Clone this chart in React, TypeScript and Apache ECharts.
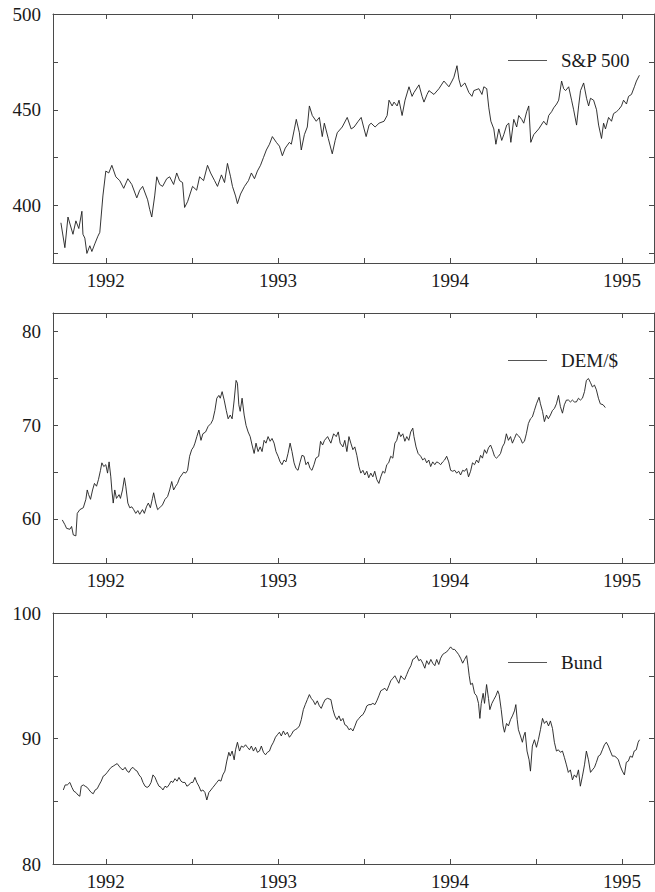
import React, { useEffect, useRef } from "react";
import * as echarts from "echarts";

// decimal year, value
const spData: [number, number][] = [
  [1991.739, 391], [1991.762, 378], [1991.780, 394], [1991.809, 385], [1991.826, 392], [1991.843, 388],
  [1991.861, 397], [1991.867, 385], [1991.878, 383], [1991.890, 375], [1991.907, 379], [1991.919, 376],
  [1991.936, 380], [1991.954, 384], [1991.965, 386], [1991.983, 405], [1992.000, 418], [1992.017, 417],
  [1992.035, 421], [1992.058, 415], [1992.081, 413], [1992.104, 409], [1992.128, 414], [1992.151, 411],
  [1992.180, 404], [1992.197, 408], [1992.214, 410], [1992.243, 403], [1992.255, 398], [1992.267, 394],
  [1992.284, 405], [1992.296, 415], [1992.313, 411], [1992.330, 410], [1992.354, 414], [1992.371, 415],
  [1992.394, 411], [1992.412, 417], [1992.429, 413], [1992.446, 412], [1992.458, 399], [1992.475, 402],
  [1992.504, 410], [1992.528, 408], [1992.545, 415], [1992.568, 413], [1992.591, 421], [1992.609, 417],
  [1992.632, 413], [1992.649, 410], [1992.672, 416], [1992.690, 412], [1992.707, 422], [1992.725, 415],
  [1992.736, 410], [1992.754, 405], [1992.765, 401], [1992.783, 406], [1992.806, 410], [1992.829, 413],
  [1992.846, 417], [1992.864, 414], [1992.881, 418], [1992.899, 421], [1992.916, 425], [1992.933, 429],
  [1992.951, 432], [1992.968, 436], [1992.991, 433], [1993.009, 431], [1993.026, 426], [1993.043, 430],
  [1993.067, 433], [1993.078, 432], [1993.096, 440], [1993.107, 445], [1993.125, 438], [1993.136, 429],
  [1993.154, 437], [1993.171, 441], [1993.183, 452], [1993.200, 447], [1993.223, 444], [1993.241, 446],
  [1993.258, 436], [1993.270, 443], [1993.293, 435], [1993.316, 427], [1993.333, 434], [1993.345, 438],
  [1993.374, 441], [1993.403, 446], [1993.426, 440], [1993.443, 441], [1993.467, 444], [1993.484, 446],
  [1993.501, 440], [1993.513, 436], [1993.530, 442], [1993.542, 443], [1993.565, 441], [1993.588, 443],
  [1993.617, 444], [1993.635, 447], [1993.646, 455], [1993.664, 452], [1993.675, 454], [1993.693, 452],
  [1993.704, 455], [1993.722, 447], [1993.739, 455], [1993.762, 462], [1993.780, 457], [1993.791, 459],
  [1993.820, 463], [1993.838, 457], [1993.849, 454], [1993.867, 458], [1993.878, 460], [1993.907, 458],
  [1993.936, 461], [1993.965, 465], [1993.994, 462], [1994.012, 465], [1994.023, 467], [1994.041, 473],
  [1994.052, 466], [1994.064, 462], [1994.087, 464], [1994.110, 459], [1994.128, 457], [1994.139, 460],
  [1994.168, 461], [1994.186, 458], [1994.197, 462], [1994.214, 461], [1994.226, 451], [1994.238, 444],
  [1994.255, 440], [1994.267, 432], [1994.284, 440], [1994.301, 434], [1994.313, 437], [1994.330, 442],
  [1994.342, 443], [1994.354, 433], [1994.371, 445], [1994.388, 441], [1994.400, 447], [1994.417, 445],
  [1994.429, 443], [1994.446, 449], [1994.458, 452], [1994.470, 433], [1994.487, 437], [1994.516, 440],
  [1994.545, 444], [1994.562, 442], [1994.574, 447], [1994.591, 449], [1994.603, 451], [1994.620, 453],
  [1994.632, 455], [1994.649, 465], [1994.661, 461], [1994.672, 460], [1994.690, 462], [1994.707, 455],
  [1994.719, 450], [1994.736, 442], [1994.748, 452], [1994.759, 460], [1994.777, 464], [1994.794, 456],
  [1994.806, 452], [1994.817, 456], [1994.835, 455], [1994.852, 450], [1994.864, 442], [1994.881, 435],
  [1994.893, 443], [1994.904, 440], [1994.922, 446], [1994.939, 444], [1994.951, 448], [1994.968, 449],
  [1994.980, 450], [1994.997, 452], [1995.009, 455], [1995.026, 453], [1995.038, 457], [1995.055, 458],
  [1995.072, 462], [1995.084, 465], [1995.101, 468],
];

const demData: [number, number][] = [
  [1991.747, 59.9], [1991.762, 59.4], [1991.772, 59.0], [1991.791, 58.9], [1991.801, 59.2], [1991.811, 58.3],
  [1991.826, 58.2], [1991.834, 60.6], [1991.849, 61.0], [1991.869, 61.2], [1991.884, 62.1], [1991.892, 63.1],
  [1991.900, 62.6], [1991.911, 62.1], [1991.923, 63.1], [1991.934, 63.8], [1991.946, 63.5], [1991.957, 64.2],
  [1991.969, 65.2], [1991.977, 66.0], [1991.988, 65.6], [1992.000, 65.8], [1992.010, 64.9], [1992.019, 66.1],
  [1992.029, 64.5], [1992.035, 63.1], [1992.043, 61.7], [1992.052, 63.1], [1992.062, 62.2], [1992.077, 62.6],
  [1992.085, 62.2], [1992.097, 63.1], [1992.108, 64.4], [1992.116, 63.5], [1992.128, 61.7], [1992.139, 61.2],
  [1992.151, 61.3], [1992.162, 61.0], [1992.174, 60.6], [1992.186, 60.9], [1992.197, 60.5], [1992.213, 61.0],
  [1992.224, 60.6], [1992.236, 61.3], [1992.247, 61.7], [1992.259, 61.2], [1992.271, 62.2], [1992.278, 62.8],
  [1992.290, 61.7], [1992.301, 61.0], [1992.313, 61.2], [1992.329, 61.5], [1992.344, 62.1], [1992.359, 62.4],
  [1992.371, 63.1], [1992.383, 64.0], [1992.394, 63.1], [1992.406, 63.5], [1992.417, 63.8], [1992.429, 64.4],
  [1992.441, 64.7], [1992.452, 65.0], [1992.464, 64.9], [1992.475, 65.2], [1992.487, 66.7], [1992.499, 67.4],
  [1992.510, 67.7], [1992.518, 68.1], [1992.529, 68.8], [1992.541, 69.5], [1992.553, 68.4], [1992.564, 69.1],
  [1992.580, 69.3], [1992.595, 69.9], [1992.611, 70.2], [1992.622, 70.6], [1992.634, 71.6], [1992.645, 72.9],
  [1992.657, 73.2], [1992.665, 72.9], [1992.676, 73.6], [1992.688, 72.7], [1992.700, 71.6], [1992.711, 70.7],
  [1992.723, 71.1], [1992.734, 70.7], [1992.746, 72.7], [1992.757, 74.8], [1992.765, 74.5], [1992.773, 72.2],
  [1992.781, 71.5], [1992.792, 72.9], [1992.804, 71.1], [1992.815, 70.0], [1992.827, 69.3], [1992.839, 68.8],
  [1992.850, 67.9], [1992.862, 67.0], [1992.873, 68.1], [1992.885, 67.2], [1992.897, 67.7], [1992.908, 67.2],
  [1992.920, 68.4], [1992.931, 68.1], [1992.943, 68.8], [1992.955, 68.3], [1992.966, 68.6], [1992.978, 68.1],
  [1992.989, 67.2], [1993.001, 66.7], [1993.013, 66.1], [1993.024, 65.8], [1993.036, 66.3], [1993.047, 66.1],
  [1993.059, 67.0], [1993.071, 68.1], [1993.082, 67.2], [1993.094, 66.0], [1993.105, 65.4], [1993.117, 65.2],
  [1993.128, 66.0], [1993.140, 66.8], [1993.152, 66.7], [1993.163, 65.8], [1993.175, 66.1], [1993.187, 65.4],
  [1993.198, 65.2], [1993.210, 65.8], [1993.221, 66.5], [1993.237, 66.7], [1993.248, 68.3], [1993.260, 67.9],
  [1993.271, 68.4], [1993.289, 68.8], [1993.308, 68.1], [1993.324, 69.1], [1993.339, 68.8], [1993.351, 69.3],
  [1993.362, 68.1], [1993.378, 67.7], [1993.389, 68.4], [1993.401, 67.2], [1993.413, 68.8], [1993.424, 68.1],
  [1993.436, 67.4], [1993.447, 67.7], [1993.459, 66.8], [1993.471, 65.6], [1993.482, 64.9], [1993.494, 65.2],
  [1993.505, 64.7], [1993.517, 65.1], [1993.528, 64.4], [1993.540, 64.9], [1993.552, 64.5], [1993.563, 65.1],
  [1993.575, 64.2], [1993.587, 63.8], [1993.598, 64.5], [1993.610, 65.1], [1993.621, 64.9], [1993.633, 65.8],
  [1993.644, 66.0], [1993.656, 66.7], [1993.668, 66.5], [1993.680, 68.1], [1993.691, 68.4], [1993.703, 69.3],
  [1993.714, 68.8], [1993.726, 69.1], [1993.738, 68.3], [1993.749, 68.8], [1993.761, 68.4], [1993.772, 69.3],
  [1993.784, 69.7], [1993.791, 68.8], [1993.803, 67.7], [1993.815, 67.0], [1993.830, 66.7], [1993.842, 66.3],
  [1993.853, 66.5], [1993.865, 66.0], [1993.877, 66.3], [1993.888, 65.6], [1993.900, 66.1], [1993.912, 65.8],
  [1993.923, 66.1], [1993.934, 66.0], [1993.946, 65.8], [1993.958, 66.1], [1993.969, 66.3], [1993.981, 66.7],
  [1993.993, 66.1], [1994.004, 65.2], [1994.016, 65.1], [1994.028, 65.2], [1994.039, 64.9], [1994.051, 65.1],
  [1994.062, 64.7], [1994.074, 65.2], [1994.085, 65.1], [1994.097, 65.4], [1994.108, 64.5], [1994.120, 65.1],
  [1994.131, 66.0], [1994.143, 65.8], [1994.155, 66.3], [1994.166, 66.0], [1994.178, 66.8], [1994.189, 66.5],
  [1994.201, 67.4], [1994.213, 67.0], [1994.224, 67.6], [1994.236, 67.9], [1994.247, 67.4], [1994.259, 66.7],
  [1994.270, 66.5], [1994.282, 66.7], [1994.294, 67.0], [1994.305, 67.7], [1994.317, 68.1], [1994.328, 69.1],
  [1994.340, 68.4], [1994.352, 68.8], [1994.363, 68.1], [1994.375, 68.6], [1994.386, 69.1], [1994.398, 68.9],
  [1994.410, 68.6], [1994.421, 68.1], [1994.433, 68.3], [1994.444, 69.1], [1994.456, 70.2], [1994.468, 70.7],
  [1994.479, 70.9], [1994.491, 71.6], [1994.503, 72.3], [1994.518, 73.0], [1994.526, 72.3], [1994.538, 71.5],
  [1994.549, 70.4], [1994.561, 71.1], [1994.572, 70.7], [1994.584, 71.1], [1994.596, 71.6], [1994.607, 71.8],
  [1994.619, 72.3], [1994.631, 73.2], [1994.642, 72.0], [1994.654, 71.3], [1994.665, 72.2], [1994.677, 72.7],
  [1994.689, 72.7], [1994.700, 72.5], [1994.712, 72.7], [1994.723, 72.5], [1994.735, 72.5], [1994.747, 72.9],
  [1994.758, 72.7], [1994.770, 72.9], [1994.782, 73.6], [1994.793, 74.8], [1994.805, 75.0], [1994.816, 74.6],
  [1994.828, 74.1], [1994.840, 74.3], [1994.851, 73.8], [1994.863, 72.9], [1994.874, 72.3], [1994.890, 72.2],
  [1994.903, 71.9],
];

const bundData: [number, number][] = [
  [1991.753, 85.9], [1991.764, 86.3], [1991.776, 86.3], [1991.791, 86.5], [1991.803, 86.1], [1991.814, 85.8],
  [1991.826, 85.7], [1991.838, 85.5], [1991.849, 85.4], [1991.857, 86.2], [1991.869, 86.3], [1991.880, 86.2],
  [1991.892, 86.1], [1991.903, 85.9], [1991.915, 85.7], [1991.927, 85.6], [1991.938, 85.9], [1991.950, 86.0],
  [1991.961, 86.3], [1991.973, 86.6], [1991.985, 87.0], [1991.996, 87.1], [1992.008, 87.3], [1992.019, 87.5],
  [1992.031, 87.7], [1992.043, 87.8], [1992.054, 87.9], [1992.066, 88.0], [1992.077, 87.8], [1992.089, 87.6],
  [1992.100, 87.5], [1992.112, 87.7], [1992.124, 87.4], [1992.135, 87.3], [1992.147, 87.6], [1992.158, 87.7],
  [1992.170, 87.5], [1992.182, 87.4], [1992.193, 87.1], [1992.205, 86.9], [1992.216, 86.5], [1992.228, 86.2],
  [1992.240, 86.1], [1992.251, 86.2], [1992.263, 86.5], [1992.274, 87.1], [1992.286, 86.9], [1992.298, 86.5],
  [1992.309, 86.2], [1992.321, 86.1], [1992.332, 85.9], [1992.344, 86.2], [1992.356, 86.1], [1992.367, 86.3],
  [1992.379, 86.6], [1992.390, 86.5], [1992.402, 86.8], [1992.414, 86.6], [1992.425, 86.9], [1992.437, 86.6],
  [1992.448, 86.5], [1992.460, 86.5], [1992.471, 86.2], [1992.483, 86.3], [1992.495, 86.5], [1992.506, 86.5],
  [1992.518, 86.9], [1992.529, 86.5], [1992.541, 86.2], [1992.553, 85.8], [1992.564, 85.9], [1992.576, 85.7],
  [1992.587, 85.1], [1992.599, 85.7], [1992.611, 85.9], [1992.622, 86.1], [1992.634, 86.3], [1992.645, 86.5],
  [1992.657, 86.7], [1992.669, 86.6], [1992.680, 87.1], [1992.692, 87.4], [1992.703, 88.2], [1992.715, 88.9],
  [1992.723, 88.6], [1992.734, 89.0], [1992.746, 88.3], [1992.754, 89.1], [1992.765, 89.7], [1992.777, 89.0],
  [1992.788, 89.4], [1992.800, 89.3], [1992.812, 89.5], [1992.823, 89.3], [1992.835, 89.1], [1992.846, 89.4],
  [1992.858, 89.0], [1992.870, 89.3], [1992.881, 88.9], [1992.893, 89.0], [1992.904, 89.4], [1992.916, 88.9],
  [1992.928, 88.7], [1992.939, 88.9], [1992.951, 89.0], [1992.962, 89.4], [1992.974, 89.7], [1992.986, 90.1],
  [1992.997, 90.3], [1993.009, 90.5], [1993.020, 90.2], [1993.032, 90.6], [1993.043, 90.3], [1993.055, 90.5],
  [1993.067, 90.1], [1993.078, 90.3], [1993.090, 90.6], [1993.101, 90.7], [1993.113, 90.8], [1993.125, 91.0],
  [1993.136, 91.5], [1993.148, 92.3], [1993.159, 92.7], [1993.171, 93.1], [1993.183, 93.5], [1993.194, 93.2],
  [1993.206, 93.0], [1993.217, 92.7], [1993.229, 93.0], [1993.241, 92.6], [1993.252, 92.4], [1993.264, 92.8],
  [1993.275, 93.1], [1993.289, 93.2], [1993.308, 93.1], [1993.320, 92.3], [1993.331, 91.8], [1993.343, 91.5],
  [1993.355, 91.8], [1993.366, 91.4], [1993.378, 91.6], [1993.389, 91.1], [1993.401, 91.0], [1993.413, 90.7],
  [1993.425, 90.8], [1993.436, 90.6], [1993.448, 91.0], [1993.459, 91.4], [1993.471, 91.6], [1993.483, 91.8],
  [1993.494, 91.9], [1993.506, 92.2], [1993.517, 92.6], [1993.529, 92.7], [1993.541, 92.7], [1993.552, 92.8],
  [1993.564, 92.7], [1993.575, 93.0], [1993.587, 93.4], [1993.598, 93.8], [1993.610, 93.9], [1993.622, 94.0],
  [1993.633, 93.8], [1993.645, 94.2], [1993.656, 94.6], [1993.668, 94.8], [1993.680, 95.0], [1993.691, 94.7],
  [1993.703, 94.4], [1993.715, 95.0], [1993.726, 94.8], [1993.737, 94.7], [1993.749, 95.1], [1993.761, 95.5],
  [1993.773, 95.8], [1993.784, 96.3], [1993.796, 96.4], [1993.807, 96.6], [1993.819, 96.2], [1993.830, 96.3],
  [1993.842, 96.0], [1993.854, 95.6], [1993.865, 96.2], [1993.877, 95.9], [1993.889, 96.3], [1993.900, 96.0],
  [1993.912, 95.8], [1993.923, 96.3], [1993.935, 95.9], [1993.946, 96.4], [1993.958, 96.7], [1993.969, 96.8],
  [1993.981, 96.9], [1993.993, 97.1], [1994.004, 97.3], [1994.016, 97.1], [1994.027, 97.1], [1994.039, 96.9],
  [1994.050, 96.7], [1994.062, 96.4], [1994.074, 96.0], [1994.085, 96.3], [1994.097, 96.6], [1994.105, 95.8],
  [1994.112, 95.0], [1994.120, 94.3], [1994.131, 94.4], [1994.143, 93.6], [1994.155, 93.4], [1994.166, 92.8],
  [1994.174, 91.6], [1994.182, 92.8], [1994.193, 93.6], [1994.201, 92.8], [1994.213, 94.3], [1994.224, 93.2],
  [1994.232, 92.3], [1994.244, 92.8], [1994.255, 93.1], [1994.267, 93.4], [1994.278, 93.8], [1994.286, 93.5],
  [1994.298, 92.3], [1994.309, 91.0], [1994.317, 90.5], [1994.329, 91.2], [1994.340, 91.0], [1994.352, 91.5],
  [1994.363, 91.8], [1994.375, 92.2], [1994.383, 92.7], [1994.391, 91.5], [1994.398, 90.7], [1994.410, 90.2],
  [1994.421, 89.7], [1994.429, 90.2], [1994.437, 90.5], [1994.448, 89.0], [1994.460, 88.3], [1994.468, 87.4],
  [1994.479, 89.4], [1994.491, 89.9], [1994.503, 89.3], [1994.514, 89.9], [1994.526, 90.7], [1994.538, 91.6],
  [1994.549, 91.2], [1994.561, 91.4], [1994.573, 91.0], [1994.584, 91.4], [1994.596, 90.8], [1994.607, 89.7],
  [1994.619, 89.0], [1994.630, 89.1], [1994.642, 88.9], [1994.654, 89.0], [1994.665, 88.5], [1994.677, 87.9],
  [1994.688, 87.3], [1994.700, 87.5], [1994.712, 86.7], [1994.723, 87.1], [1994.735, 86.9], [1994.747, 87.5],
  [1994.758, 86.2], [1994.770, 87.0], [1994.782, 87.9], [1994.793, 89.0], [1994.805, 88.3], [1994.817, 87.3],
  [1994.828, 87.5], [1994.840, 87.7], [1994.851, 88.1], [1994.863, 88.6], [1994.874, 88.7], [1994.886, 89.1],
  [1994.898, 89.5], [1994.909, 89.7], [1994.921, 89.4], [1994.932, 89.0], [1994.944, 88.6], [1994.955, 88.6],
  [1994.967, 88.5], [1994.979, 88.3], [1994.990, 87.8], [1995.002, 87.4], [1995.014, 87.1], [1995.025, 88.1],
  [1995.037, 88.2], [1995.048, 88.6], [1995.060, 88.5], [1995.071, 89.0], [1995.083, 89.1], [1995.094, 89.7],
  [1995.102, 89.9],
];

const seriesNames = ["S&P 500", "DEM/$", "Bund"];
const xLabelYears = [1992, 1993, 1994, 1995];
const xTickYears = [1992, 1992.5, 1993, 1993.5, 1994, 1994.5, 1995];
const yLabelSets = [[400, 450, 500], [60, 70, 80], [80, 90, 100]];
const yTickSets = [[375, 400, 425, 450, 475, 500], [60, 65, 70, 75, 80], [80, 85, 90, 95, 100]];
const yRanges = [[370, 500], [55.3, 82], [80, 100]];
const X_MIN = 1991.693;
const X_MAX = 1995.186;

const FONT = "Liberation Serif, Times New Roman, serif";
const AXIS_COLOR = "#4a4a4a";
const LINE_COLOR = "#1e1e1e";

export default function App() {
  const ref = useRef<HTMLDivElement>(null);

  useEffect(() => {
    if (!ref.current) return;
    const chart = echarts.init(ref.current, undefined, { renderer: "svg" });
    const datasets = [spData, demData, bundData];
    const grids = [
      { left: 53, top: 14, width: 601, height: 249 },
      { left: 53, top: 313, width: 601, height: 250 },
      { left: 53, top: 613, width: 601, height: 251 },
    ];
    const legendTops = [51, 351, 653];

    const xAxis: any[] = [];
    const yAxis: any[] = [];
    const series: any[] = [];
    const legend: any[] = [];

    const labelStyle = { fontFamily: FONT, fontSize: 19, color: "#1a1a1a", fontWeight: "normal" };

    grids.forEach((_, i) => {
      const tickStyle = { lineStyle: { color: AXIS_COLOR, width: 1 } };
      xAxis.push({
        gridIndex: i, type: "value", min: X_MIN, max: X_MAX, position: "bottom",
        axisLine: { show: true, lineStyle: { color: AXIS_COLOR, width: 1 } },
        axisTick: { show: true, inside: true, length: 5, customValues: xTickYears, ...tickStyle },
        axisLabel: {
          customValues: xLabelYears, formatter: (v: number) => String(Math.round(v)),
          ...labelStyle, margin: 8,
        },
        splitLine: { show: false },
      });
      xAxis.push({
        gridIndex: i, type: "value", min: X_MIN, max: X_MAX, position: "top",
        axisLine: { show: true, lineStyle: { color: AXIS_COLOR, width: 1 } },
        axisTick: { show: true, inside: true, length: 5, customValues: xTickYears, ...tickStyle },
        axisLabel: { show: false },
        splitLine: { show: false },
      });
      yAxis.push({
        gridIndex: i, type: "value", min: yRanges[i][0], max: yRanges[i][1], position: "left",
        axisLine: { show: true, lineStyle: { color: AXIS_COLOR, width: 1 } },
        axisTick: { show: true, inside: true, length: 5, customValues: yTickSets[i], ...tickStyle },
        axisLabel: {
          customValues: yLabelSets[i], formatter: (v: number) => String(Math.round(v)),
          ...labelStyle, margin: 12,
        },
        splitLine: { show: false },
      });
      yAxis.push({
        gridIndex: i, type: "value", min: yRanges[i][0], max: yRanges[i][1], position: "right",
        axisLine: { show: true, lineStyle: { color: AXIS_COLOR, width: 1 } },
        axisTick: { show: true, inside: true, length: 5, customValues: yTickSets[i], ...tickStyle },
        axisLabel: { show: false },
        splitLine: { show: false },
      });
      series.push({
        name: seriesNames[i], type: "line", xAxisIndex: i * 2, yAxisIndex: i * 2,
        data: datasets[i], showSymbol: false, symbol: "none",
        lineStyle: { color: LINE_COLOR, width: 0.9 }, itemStyle: { color: LINE_COLOR },
      });
      legend.push({
        data: [{ name: seriesNames[i], icon: "rect" }], left: 508, top: legendTops[i], padding: 0,
        itemWidth: 39, itemHeight: 1,
        itemStyle: { color: "#555555", borderWidth: 0 },
        textStyle: { ...labelStyle, padding: [0, 0, 0, 9] },
      });
    });

    chart.setOption({
      animation: false,
      backgroundColor: "#ffffff",
      textStyle: { fontFamily: FONT },
      grid: grids,
      xAxis, yAxis, series, legend,
    });
    return () => chart.dispose();
  }, []);

  return (
    <div
      ref={ref}
      style={{ position: "absolute", left: 0, top: 0, width: 655, height: 892, background: "#fff" }}
    />
  );
}
